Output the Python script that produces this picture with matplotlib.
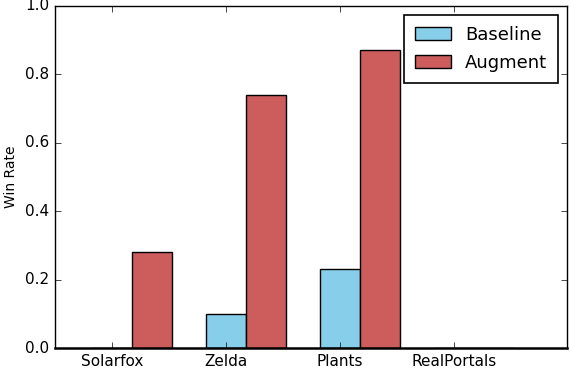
import matplotlib
matplotlib.use("Agg")
import matplotlib.pyplot as plt
import numpy as np

plt.style.use('classic')
plt.rcParams['font.family'] = ['DejaVu Sans']

games = ["Solarfox", "Zelda", "Plants", "RealPortals"]
baseline = [0.0, 0.10, 0.23, 0.0]
augment = [0.28, 0.74, 0.87, 0.0]

fig = plt.figure(figsize=(5.70, 3.68), dpi=100, facecolor='white')
ax = fig.add_axes([0.0965, 0.054, 0.8985, 0.93])
ind = np.arange(len(games))
width = 0.35
ax.bar(ind, baseline, width, color='skyblue', edgecolor='black', label='Baseline', align='center')
ax.bar(ind + width, augment, width, color='indianred', edgecolor='black', label='Augment', align='center')
ax.set_xticks(ind)
ax.set_xticklabels(games, fontsize=11)
ax.set_xlim(-0.5, 3.99)
ax.set_ylim(0, 1.0)
ax.set_yticks([0.0, 0.2, 0.4, 0.6, 0.8, 1.0])
ax.tick_params(axis='y', labelsize=11)
ax.set_ylabel("Win Rate", fontsize=10)
ax.spines['bottom'].set_linewidth(1.8)
leg = ax.legend(loc='upper right', fontsize=13, fancybox=False, handlelength=2.0,
                borderpad=0.6, labelspacing=0.55)
leg.get_frame().set_linewidth(1.2)
fig.savefig("out.png", dpi=100, facecolor='white')
